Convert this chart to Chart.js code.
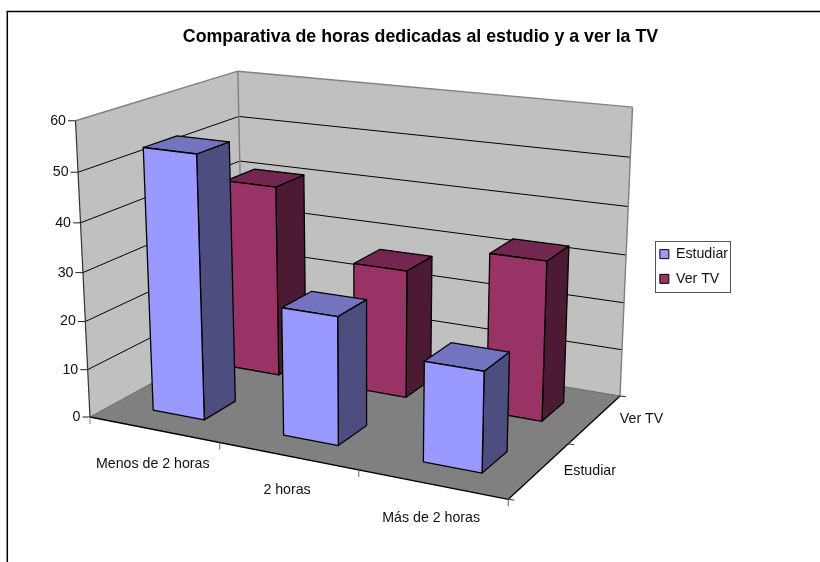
<!DOCTYPE html>
<html><head><meta charset="utf-8">
<style>html,body{margin:0;padding:0;background:#fff}canvas{display:block}</style>
<script src="https://cdn.jsdelivr.net/npm/chart.js@4"></script>
</head><body><canvas id="c" width="820" height="562"></canvas>
<script>
const categories = ['Menos de 2 horas', '2 horas', 'Más de 2 horas'];
const seriesNames = ['Estudiar', 'Ver TV'];
const estudiar = [54, 26, 20];
const verTV = [41, 27, 33];
const yTicks = { min: 0, max: 60, step: 10 };

// Camera of the 3D box: where the floor corners and the vertical vanishing point land.
const FLOOR = { A: [90, 417], B: [508.3, 499.3], C: [620, 396], D: [243.5, 333] };
const VP = [369, 6118], VT = -0.0494, TRIM = -3.5;
const H = (() => {
  const [x0, y0] = FLOOR.A, [x1, y1] = FLOOR.B, [x2, y2] = FLOOR.C, [x3, y3] = FLOOR.D;
  const sx = x0 - x1 + x2 - x3, sy = y0 - y1 + y2 - y3;
  const dx1 = x1 - x2, dx2 = x3 - x2, dy1 = y1 - y2, dy2 = y3 - y2, den = dx1 * dy2 - dx2 * dy1;
  const g = (sx * dy2 - dx2 * sy) / den, h = (dx1 * sy - sx * dy1) / den;
  return { a: x1 - x0 + g * x1, b: x3 - x0 + h * x3, c: x0, d: y1 - y0 + g * y1, e: y3 - y0 + h * y3, f: y0, g, h };
})();
function proj(u, v, w) {
  const q = H.g * u + H.h * v + 1 + VT * w;
  return [
    (H.a * u + H.b * v + H.c + VT * w * VP[0]) / q,
    (H.d * u + H.e * v + H.f + VT * w * VP[1]) / q + TRIM * u * v * w
  ];
}
function poly(ctx, pts, fill, stroke, lw) {
  ctx.beginPath();
  pts.forEach((p, i) => i ? ctx.lineTo(p[0], p[1]) : ctx.moveTo(p[0], p[1]));
  ctx.closePath();
  if (fill) { ctx.fillStyle = fill; ctx.fill(); }
  if (stroke) { ctx.strokeStyle = stroke; ctx.lineWidth = lw || 1; ctx.lineJoin = 'round'; ctx.stroke(); }
}
function line(ctx, p, q, color, lw) {
  ctx.beginPath(); ctx.moveTo(p[0], p[1]); ctx.lineTo(q[0], q[1]);
  ctx.strokeStyle = color; ctx.lineWidth = lw || 1; ctx.stroke();
}
const TEXT_FONT = '14.2px "Liberation Sans", Arial, sans-serif';
const CAT_NUDGE = [[-1, 34.5], [-1, 34], [-1, 34]];
const SER_NUDGE = [[50.5, 1], [46.5, 0]];
const SHADES = [
  { side: '#4D4D80', top: '#7373BF' },
  { side: '#4D1A33', top: '#732650' }
];

const box3d = {
  id: 'box3d',
  beforeDatasetsDraw(chart) {
    const ctx = chart.ctx, xs = chart.scales.x, ys = chart.scales.y, zs = chart.scales.z;
    const U = px => (px - xs.left) / xs.width;
    const W = px => (ys.bottom - px) / ys.height;
    const V = px => (px - zs.left) / zs.width;
    ctx.save();
    // sheet border (open at right and bottom)
    ctx.beginPath(); ctx.moveTo(7.3, chart.height); ctx.lineTo(7.3, 11.6); ctx.lineTo(chart.width, 11.6);
    ctx.strokeStyle = '#000'; ctx.lineWidth = 1.5; ctx.stroke();
    // walls
    poly(ctx, [proj(0,0,0), proj(0,1,0), proj(0,1,1), proj(0,0,1)], '#C0C0C0');
    poly(ctx, [proj(0,1,0), proj(1,1,0), proj(1,1,1), proj(0,1,1)], '#C0C0C0');
    poly(ctx, [proj(0,0,0), proj(1,0,0), proj(1,1,0), proj(0,1,0)], '#808080');
    // gridlines and y ticks
    ctx.font = TEXT_FONT; ctx.fillStyle = '#111';
    ys.ticks.forEach(t => {
      const w = W(ys.getPixelForValue(t.value));
      const a = proj(0,0,w), b = proj(0,1,w), c = proj(1,1,w);
      const edge = (t.value === yTicks.min || t.value === yTicks.max);
      if (t.value !== yTicks.min) {
        line(ctx, a, b, edge ? '#808080' : '#000', edge ? 1.4 : 1);
        line(ctx, b, c, edge ? '#808080' : '#000', edge ? 1.4 : 1);
      }
      line(ctx, [a[0] - 7.5, a[1]], a, '#222', 1);
      ctx.textAlign = 'right'; ctx.textBaseline = 'middle'; ctx.fillStyle = '#111';
      ctx.fillText(String(t.value), a[0] - 9.5, a[1]);
    });
    // wall edges
    line(ctx, proj(0,1,0), proj(0,1,1), '#808080', 1.4);
    line(ctx, proj(1,1,0), proj(1,1,1), '#808080', 1.4);
    line(ctx, proj(0,0,0), proj(0,0,1), '#333', 1.2);
    line(ctx, proj(0,1,0), proj(1,1,0), '#6a6a6a', 1);
    line(ctx, proj(0,0,0), proj(0,1,0), '#6a6a6a', 1);
    // floor front edges
    line(ctx, proj(0,0,0), proj(1,0,0), '#000', 1.3);
    line(ctx, proj(1,0,0), proj(1,1,0), '#000', 1.3);
    // x ticks and labels
    const catSpan = xs.width / categories.length;
    for (let i = 0; i <= categories.length; i++) {
      const p = proj(i * catSpan / xs.width, 0, 0);
      line(ctx, p, [p[0], p[1] + 7], i === 0 ? '#808080' : '#666', 1);
    }
    ctx.textAlign = 'center'; ctx.textBaseline = 'middle'; ctx.fillStyle = '#111';
    xs.getLabels().forEach((lab, i) => {
      const p = proj(U(xs.getPixelForValue(i)), 0, 0);
      ctx.fillText(lab, p[0] + CAT_NUDGE[i][0], p[1] + CAT_NUDGE[i][1]);
    });
    // depth ticks and labels
    for (let i = 0; i <= seriesNames.length; i++) {
      const p = proj(1, i / seriesNames.length, 0);
      line(ctx, p, [p[0] + 6, p[1] + 0.8], '#333', 1);
    }
    zs.getLabels().forEach((lab, i) => {
      const p = proj(1, V(zs.getPixelForValue(i)), 0);
      ctx.fillText(lab, p[0] + SER_NUDGE[i][0], p[1] + SER_NUDGE[i][1]);
    });
    // bars: back series first, left to right
    const depth = 0.4 * (V(zs.getPixelForValue(1)) - V(zs.getPixelForValue(0)));
    for (let d = chart.data.datasets.length - 1; d >= 0; d--) {
      const meta = chart.getDatasetMeta(d), ds = chart.data.datasets[d];
      const vc = V(zs.getPixelForValue(d));
      const v0 = vc - depth / 2, v1 = vc + depth / 2;
      meta.data.forEach(el => {
        const u0 = U(el.x - el.width / 2), u1 = U(el.x + el.width / 2), w = W(el.y), w0 = W(el.base);
        poly(ctx, [proj(u1,v0,w0), proj(u1,v1,w0), proj(u1,v1,w), proj(u1,v0,w)], SHADES[d].side, '#000', 1.3);
        poly(ctx, [proj(u0,v0,w), proj(u1,v0,w), proj(u1,v1,w), proj(u0,v1,w)], SHADES[d].top, '#000', 1.3);
        poly(ctx, [proj(u0,v0,w0), proj(u1,v0,w0), proj(u1,v0,w), proj(u0,v0,w)], ds.backgroundColor, '#000', 1.3);
      });
    }
    ctx.restore();
    return false;
  },
  afterDraw(chart) {
    const boxes = chart.legend.legendHitBoxes, ctx = chart.ctx;
    const l = Math.min(...boxes.map(b => b.left)), r = Math.max(...boxes.map(b => b.left + b.width));
    const t = Math.min(...boxes.map(b => b.top)), bt = Math.max(...boxes.map(b => b.top + b.height));
    ctx.save(); ctx.strokeStyle = '#555'; ctx.lineWidth = 1;
    ctx.strokeRect(Math.round(l - 4.5) + .5, Math.round(t - 6.5) + .5, Math.round(r - l + 6.5), Math.round(bt - t + 12));
    ctx.restore();
  }
};

new Chart(document.getElementById('c'), {
  type: 'bar',
  data: {
    labels: categories,
    datasets: [
      { label: seriesNames[0], data: estudiar, backgroundColor: '#9999FF', borderColor: '#000', borderWidth: 1 },
      { label: seriesNames[1], data: verTV, backgroundColor: '#993366', borderColor: '#000', borderWidth: 1 }
    ]
  },
  options: {
    responsive: false, animation: false,
    layout: { padding: { left: 103, right: 82, top: 0, bottom: 29 } },
    datasets: { bar: { grouped: false, barPercentage: 0.4, categoryPercentage: 1 } },
    scales: {
      x: { display: false, offset: true },
      y: { display: false, min: yTicks.min, max: yTicks.max, ticks: { stepSize: yTicks.step } },
      z: { type: 'category', axis: 'x', position: 'top', display: false, labels: seriesNames, offset: true }
    },
    plugins: {
      title: { display: true, text: 'Comparativa de horas dedicadas al estudio y a ver la TV',
        color: '#000', font: { family: '"Liberation Sans", Arial, sans-serif', size: 17.8, weight: 'bold' },
        padding: { top: 26, bottom: 6 } },
      legend: { position: 'right', labels: { boxWidth: 9, boxHeight: 9, padding: 10.5, color: '#111',
        font: { family: '"Liberation Sans", Arial, sans-serif', size: 14.2 } } },
      tooltip: { enabled: false }
    }
  },
  plugins: [box3d]
});
</script></body></html>
